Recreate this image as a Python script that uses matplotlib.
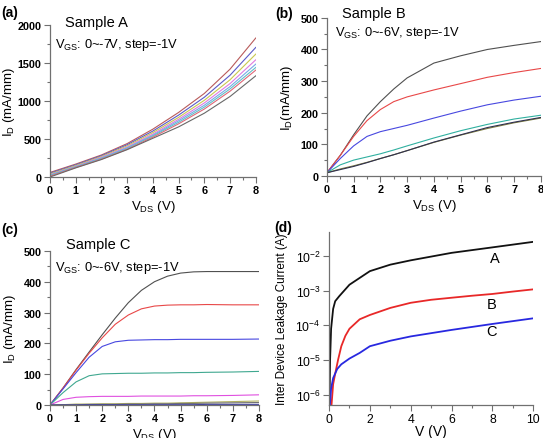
import matplotlib
matplotlib.use("Agg")
import matplotlib.pyplot as plt
from matplotlib.ticker import AutoMinorLocator, MultipleLocator, NullLocator

plt.rcParams["font.family"] = ["Liberation Sans", "DejaVu Sans"]
plt.rcParams["mathtext.fontset"] = "custom"
plt.rcParams["mathtext.rm"] = "Liberation Sans"
plt.rcParams["mathtext.it"] = "Liberation Sans"

# ── Data: (a) Sample A, V_GS 0 .. -7 V
vds_a = [0, 1, 2, 3, 4, 5, 6, 7, 8]
id_a = [
    [60, 170, 290, 440, 630, 850, 1100, 1420, 1830],
    [50, 160, 280, 425, 605, 815, 1050, 1340, 1706],
    [40, 150, 270, 410, 585, 785, 1010, 1280, 1618],
    [30, 140, 260, 395, 565, 760, 975, 1230, 1543],
    [25, 135, 250, 385, 550, 740, 945, 1190, 1486],
    [20, 130, 245, 375, 540, 720, 920, 1160, 1442],
    [10, 125, 235, 365, 525, 700, 895, 1130, 1407],
    [0, 120, 230, 360, 510, 660, 840, 1060, 1332],
]
colors_a = ["#b85a5a", "#5a5ac8", "#c8c850", "#e07ae0",
            "#78a8e8", "#60c0c8", "#e06878", "#686868"]

# ── (b) Sample B, V_GS 0 .. -6 V
vds_b = [0, 0.5, 1, 1.5, 2, 2.5, 3, 4, 5, 6, 7, 8]
id_b = [
    [10, 65, 130, 190, 235, 275, 310, 357, 380, 400, 413, 425],
    [10, 65, 125, 175, 210, 235, 250, 272, 292, 312, 327, 340],
    [10, 55, 95, 125, 140, 150, 160, 183, 205, 225, 240, 252],
    [10, 35, 50, 60, 70, 82, 95, 120, 143, 163, 180, 192],
    [10, 22, 32, 43, 55, 67, 80, 106, 129, 150, 168, 183],
    [10, 20, 30, 42, 55, 67, 80, 107, 130, 153, 170, 185],
]
colors_b = ["#505050", "#e84848", "#4848e0", "#30b0a0", "#808040", "#303050"]

# ── (c) Sample C, V_GS 0 .. -6 V
vds_c = [0, 0.5, 1, 1.5, 2, 2.5, 3, 3.5, 4, 4.5, 5, 5.5, 6, 7, 8]
id_c = [
    [0, 55, 115, 172, 228, 282, 332, 372, 400, 418, 428, 432, 433, 433, 433],
    [0, 55, 113, 168, 218, 262, 292, 312, 321, 324, 325, 325, 326, 325, 325],
    [0, 52, 105, 155, 190, 205, 210, 211, 212, 212, 213, 213, 213, 213, 214],
    [0, 40, 75, 95, 101, 102, 103, 103, 104, 104, 105, 105, 106, 107, 109],
    [0, 18, 25, 27, 28, 28, 28, 29, 29, 29, 29, 30, 30, 31, 33],
    [0, 1, 3, 3, 4, 4, 5, 5, 6, 6, 7, 8, 9, 11, 13],
    [0, 1, 1, 2, 2, 2, 3, 3, 4, 4, 5, 5, 6, 7, 8],
    [0, 0, 0, 1, 1, 1, 1, 1, 1, 1, 1, 1, 2, 2, 2],
]
colors_c = ["#505050", "#e84848", "#4848e0", "#40a890", "#e050e0",
            "#b0b060", "#707070", "#4040a0"]

# ── (d) inter-device leakage
v_a = [0.02, 0.05, 0.1, 0.2, 0.3, 0.5, 1, 2, 3, 4, 6, 8, 10]
leak_a = [5e-7, 1e-5, 8e-5, 3e-4, 5e-4, 7e-4, 1.5e-3, 3.7e-3, 5.7e-3,
          7.6e-3, 1.25e-2, 1.8e-2, 2.6e-2]
v_b = [0.12, 0.2, 0.3, 0.44, 0.6, 0.8, 1, 1.5, 2, 3, 4, 5, 6, 7, 8, 9, 10]
leak_b = [5e-7, 2e-6, 4e-6, 1e-5, 2.5e-5, 5e-5, 8e-5, 1.5e-4, 2e-4, 3.2e-4,
          4.5e-4, 5.5e-4, 6.3e-4, 7.2e-4, 8.1e-4, 9.5e-4, 1.1e-3]
v_c = [0.04, 0.1, 0.2, 0.4, 0.6, 1, 1.5, 2, 3, 4, 6, 8, 10]
leak_c = [5e-7, 1.5e-6, 3e-6, 5.5e-6, 7.5e-6, 1.1e-5, 1.6e-5, 2.5e-5,
          3.6e-5, 4.8e-5, 7.4e-5, 1.1e-4, 1.6e-4]
curve_names = ["A", "B", "C"]
curve_colors = ["#111111", "#e82828", "#2828e0"]
label_pos = [(8.1, 8.7e-3), (7.95, 4.2e-4), (7.95, 7e-5)]
log_ticks = [1e-6, 1e-5, 1e-4, 1e-3, 1e-2]
log_labels = ["$10^{-6}$", "$10^{-5}$", "$10^{-4}$", "$10^{-3}$", "$10^{-2}$"]

SPINE = "#707070"
TICK_FS = 7.8


def style(ax, bold=True):
    for s in ("top", "right"):
        ax.spines[s].set_visible(False)
    for s in ("left", "bottom"):
        ax.spines[s].set_color(SPINE)
        ax.spines[s].set_linewidth(0.9)
    ax.tick_params(which="both", direction="out", color=SPINE, width=0.8)
    ax.tick_params(which="major", length=4, labelsize=TICK_FS, pad=2)
    ax.tick_params(which="minor", length=2.5)
    if bold:
        for lab in ax.get_xticklabels() + ax.get_yticklabels():
            lab.set_fontweight("bold")


def iv_panel(rect, xs, curves, colors, ymax, ystep, ylabel, ylab_x):
    ax = fig.add_axes(rect)
    for ys, c in zip(curves, colors):
        ax.plot(xs, ys, color=c, lw=0.8)
    ax.set_xlim(0, 8)
    ax.set_ylim(0, ymax)
    ax.xaxis.set_major_locator(MultipleLocator(1))
    ax.yaxis.set_major_locator(MultipleLocator(ystep))
    ax.xaxis.set_minor_locator(AutoMinorLocator(2))
    ax.yaxis.set_minor_locator(AutoMinorLocator(2))
    ax.set_xlabel("$V_{DS}$ (V)", fontsize=9.5, labelpad=2)
    ax.set_ylabel(ylabel, fontsize=9.5, va="center")
    ax.yaxis.set_label_coords(ylab_x, 0.5)
    style(ax)
    return ax


fig = plt.figure(figsize=(5.43, 4.39), dpi=100)

# ── (a)
ax = iv_panel([0.092, 0.5945, 0.379, 0.346], vds_a, id_a, colors_a,
              2000, 500, "$I_D$ (mA/mm)", -0.2)
ax.text(0.073, 1.02, "Sample A", transform=ax.transAxes, fontsize=10.5, va="center")
ax.text(0.025, 0.875, "$V_{GS}$: 0~-7V, step=-1V", transform=ax.transAxes,
        fontsize=9.3, va="center")

# ── (b)
ax = iv_panel([0.602, 0.597, 0.394, 0.36], vds_b, id_b, colors_b,
              500, 100, "$I_D$(mA/mm)", -0.185)
ax.text(0.07, 1.03, "Sample B", transform=ax.transAxes, fontsize=10.5, va="center")
ax.text(0.037, 0.91, "$V_{GS}$: 0~-6V, step=-1V", transform=ax.transAxes,
        fontsize=9.3, va="center")

# ── (c)
ax = iv_panel([0.092, 0.0752, 0.385, 0.351], vds_c, id_c, colors_c,
              500, 100, "$I_D$ (mA/mm)", -0.19)
ax.text(0.077, 1.045, "Sample C", transform=ax.transAxes, fontsize=10.5, va="center")
ax.text(0.024, 0.896, "$V_{GS}$: 0~-6V, step=-1V", transform=ax.transAxes,
        fontsize=9.3, va="center")

# ── (d)
ax = fig.add_axes([0.606, 0.0752, 0.376, 0.394])
for xs, ys, c in zip([v_a, v_b, v_c], [leak_a, leak_b, leak_c], curve_colors):
    ax.plot(xs, ys, color=c, lw=1.3)
ax.set_yscale("log")
ax.set_xlim(0, 10)
ax.set_ylim(5e-7, 5e-2)
ax.xaxis.set_major_locator(MultipleLocator(2))
ax.xaxis.set_minor_locator(AutoMinorLocator(2))
ax.set_yticks(log_ticks)
ax.set_yticklabels(log_labels)
ax.yaxis.set_minor_locator(NullLocator())
ax.set_xlabel("V (V)", fontsize=10, labelpad=-1)
ax.set_ylabel("Inter Device Leakage Current (A)", fontsize=8.4, va="center")
ax.yaxis.set_label_coords(-0.23, 0.5)
style(ax, bold=False)
ax.tick_params(labelsize=8.8)
for name, (x, y) in zip(curve_names, label_pos):
    ax.text(x, y, name, fontsize=10.5, ha="center", va="center")

# ── panel letters
for txt, (x, y) in zip(["(a)", "(b)", "(c)", "(d)"],
                       [(1, 13), (275, 14), (1, 230), (274, 228)]):
    fig.text(x / 543, 1 - y / 439, txt, fontsize=10, fontweight="bold",
             ha="left", va="center")

fig.savefig("out.png", dpi=100)
